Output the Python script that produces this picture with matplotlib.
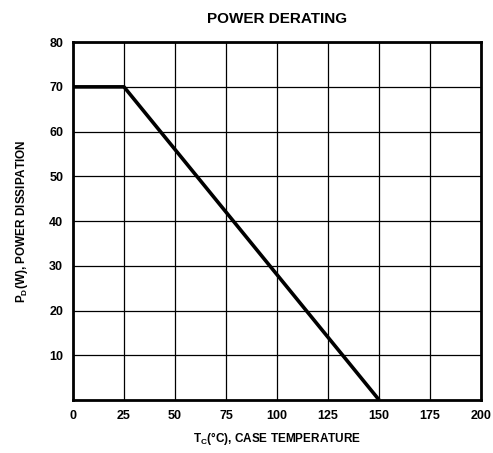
import matplotlib
matplotlib.use("Agg")
import matplotlib.pyplot as plt

# derating curve points
case_temp = [0, 25, 150]
power = [70, 70, 0]

x_ticks = [0, 25, 50, 75, 100, 125, 150, 175, 200]
y_ticks = [10, 20, 30, 40, 50, 60, 70, 80]

plt.rcParams["font.family"] = ["Liberation Sans", "DejaVu Sans"]
plt.rcParams["font.weight"] = "bold"
plt.rcParams["mathtext.fontset"] = "custom"
plt.rcParams["mathtext.bf"] = "Liberation Sans:bold"
plt.rcParams["mathtext.rm"] = "Liberation Sans:bold"
plt.rcParams["mathtext.default"] = "bf"

fig = plt.figure(figsize=(4.93, 4.53), dpi=100)
ax = fig.add_axes([0.148, 0.117, 0.828, 0.790])

ax.plot(case_temp, power, color="black", lw=2.6, solid_capstyle="butt")

ax.set_xlim(0, 200)
ax.set_ylim(0, 80)
ax.set_xticks(x_ticks)
ax.set_yticks(y_ticks)
ax.grid(True, color="black", lw=0.9)
ax.tick_params(length=0, labelsize=9, pad=7)
for lbl in ax.get_xticklabels() + ax.get_yticklabels():
    lbl.set_fontweight("bold")
for s in ax.spines.values():
    s.set_linewidth(2)

ax.set_title("POWER DERATING", fontsize=11, fontweight="bold", pad=14)
ax.set_xlabel(r"T$_\mathrm{C}$(°C), CASE TEMPERATURE", fontsize=8.5,
              fontweight="bold", labelpad=6)
ax.set_ylabel(r"P$_\mathrm{D}$(W), POWER DISSIPATION", fontsize=8.5,
              fontweight="bold", labelpad=14)

fig.savefig("out.png", dpi=100)
